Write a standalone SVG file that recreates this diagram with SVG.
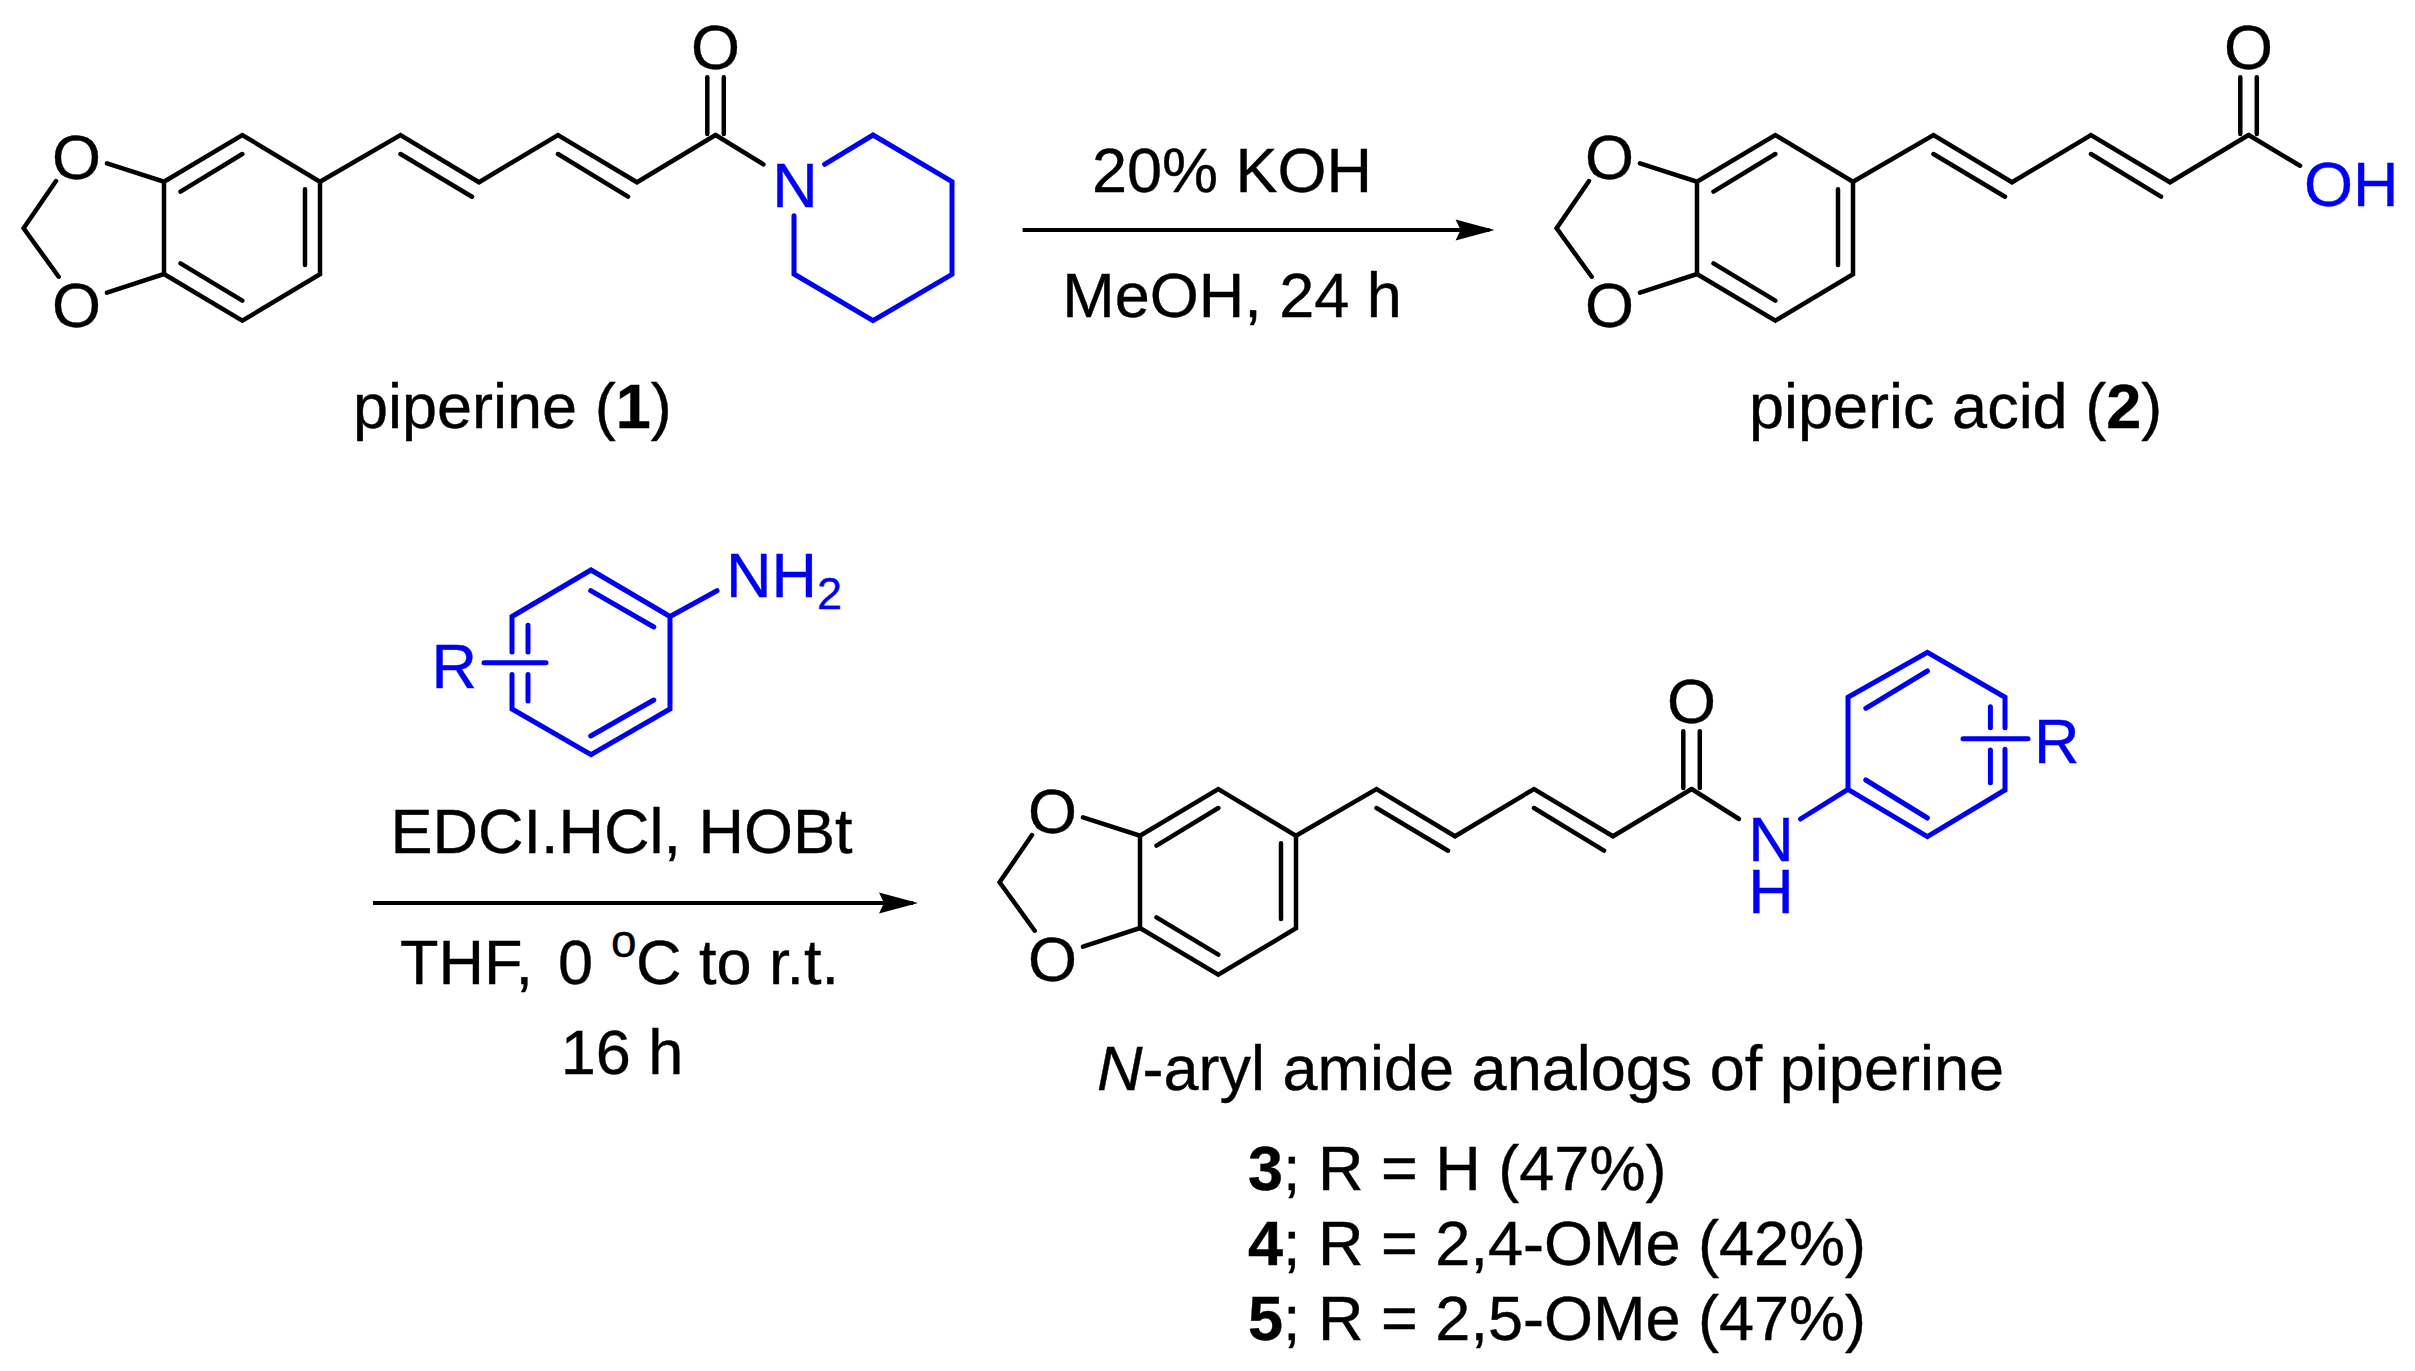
<svg xmlns="http://www.w3.org/2000/svg" xmlns:xlink="http://www.w3.org/1999/xlink" width="2415" height="1371" viewBox="0 0 2415 1371">
<style>
text{font-family:"Liberation Sans",Arial,sans-serif;font-size:63px;fill:#000;stroke:#000;stroke-width:.4}
.a{text-anchor:middle}
.b{font-weight:bold}
.bl{fill:#0000f5;stroke:#0000f5}
.sub{font-size:45px}
.sup{font-size:46px}
.k{fill:none;stroke:#000;stroke-width:4.5;stroke-linecap:round;stroke-linejoin:miter}
.u{fill:none;stroke:#0000f5;stroke-width:5;stroke-linecap:round;stroke-linejoin:miter}
.arrow{fill:none;stroke:#000;stroke-width:4}
</style>
<defs>
<marker id="head" markerUnits="userSpaceOnUse" markerWidth="44" markerHeight="26" viewBox="-1 -12 44 24" refX="34" refY="0" orient="auto"><path d="M0,-10.5L39,0L0,10.5L5,0Z" fill="#000"/></marker>
<g id="core">
<path class="k" d="M56,181L23.6,228.3L58.7,276.7"/>
<path class="k" d="M107,163.3L164,181.7L242.3,135L320,181.7L320,274.3L242.3,320.7L164,274L107,292.7M164,181.7L164,274"/>
<path class="k" d="M242.3,154L180.5,191.7M305,189.3L305,265M180.5,263.3L242.3,300.7"/>
<path class="k" d="M320,181.7L400.5,135L479,182.3L558,135L637,182.3L715.6,135"/>
<path class="k" d="M400.5,154L472,196.7M558,154L628,196.7"/>
<path class="k" d="M707.3,77.3L707.3,134M723.8,77.3L723.8,134"/>
</g>
</defs>
<rect width="2415" height="1371" fill="#fff"/>

<g id="connectors">
<line id="arrow-1" class="arrow" x1="1022.6" y1="230" x2="1489.6" y2="230" marker-end="url(#head)"/>
<line id="arrow-2" class="arrow" x1="373" y1="903" x2="913" y2="903" marker-end="url(#head)"/>
</g>

<g id="piperine">
<use href="#core"/>
<path class="k" d="M715.6,135L763.4,164.3"/>
<path class="u" d="M824.6,164.3L873,135L952,181.7L952,274.3L873,320.7L794,274L794,215.7"/>
<text class="a" x="76.5" y="178.5">O</text>
<text class="a" x="76.5" y="326.5">O</text>
<text class="a" x="715.6" y="69">O</text>
<text class="a bl" x="795" y="206.5">N</text>
<text x="353" y="427.7">piperine (<tspan class="b">1</tspan>)</text>
</g>

<g id="piperic-acid">
<use href="#core" x="1533"/>
<path class="k" d="M2248.6,135L2300,165.7"/>
<text class="a" x="1609.5" y="178.5">O</text>
<text class="a" x="1609.5" y="326.5">O</text>
<text class="a" x="2248.6" y="69">O</text>
<text class="bl" x="2304" y="206">OH</text>
<text x="1749" y="427.7">piperic acid (<tspan class="b">2</tspan>)</text>
</g>

<g id="reagents-1">
<text class="a" x="1232" y="191.7">20% KOH</text>
<text class="a" x="1232" y="317.3">MeOH, 24 h</text>
</g>

<g id="aniline">
<path class="u" d="M717,590.7L670,616.5L670,709L591,754.7L512,709L512,674.4M512,652L512,616.5L591,570L670,616.5"/>
<path class="u" d="M590.7,590.7L653.8,627M590.7,736L653.8,700M528,625.3L528,652M528,674.4L528,701M484,662.7L546,662.7"/>
<text class="bl" x="726" y="596.5">NH<tspan class="sub" dy="12.8">2</tspan></text>
<text class="bl" x="431.5" y="688">R</text>
</g>

<g id="reagents-2">
<text class="a" x="621.5" y="853">EDCI.HCl, HOBt</text>
<text x="400" y="983.5">THF,</text>
<text x="558" y="983.5">0</text>
<text class="sup" x="611" y="957">o</text>
<text x="636" y="983.5">C to r.t.</text>
<text class="a" x="622" y="1073.6">16 h</text>
</g>

<g id="amide-analog">
<use href="#core" x="976" y="654"/>
<path class="k" d="M1691.6,789L1739,819"/>
<path class="u" d="M1800.5,819L1848,789.3L1848,697.3L1927.4,652.3L2005,697.3L2005,727.7M2005,749.3L2005,790L1927.4,836.7L1848,789.3"/>
<path class="u" d="M1865.8,708.3L1927.4,671M1865.8,780L1927.4,818M1990.4,706.7L1990.4,727.7M1990.4,750L1990.4,782.7M1963,738.7L2028,738.7"/>
<text class="a" x="1052.5" y="832.5">O</text>
<text class="a" x="1052.5" y="980.5">O</text>
<text class="a" x="1691.6" y="723">O</text>
<text class="a bl" x="1771" y="860.7">N<tspan x="1771" dy="52.6">H</tspan></text>
<text class="bl" x="2034" y="763.3">R</text>
</g>

<g id="captions">
<text x="1097" y="1090"><tspan font-style="italic">N</tspan>-aryl amide analogs of piperine</text>
<text x="1248" y="1190"><tspan class="b">3</tspan>; R = H (47%)</text>
<text x="1248" y="1265"><tspan class="b">4</tspan>; R = 2,4-OMe (42%)</text>
<text x="1248" y="1340"><tspan class="b">5</tspan>; R = 2,5-OMe (47%)</text>
</g>
</svg>
